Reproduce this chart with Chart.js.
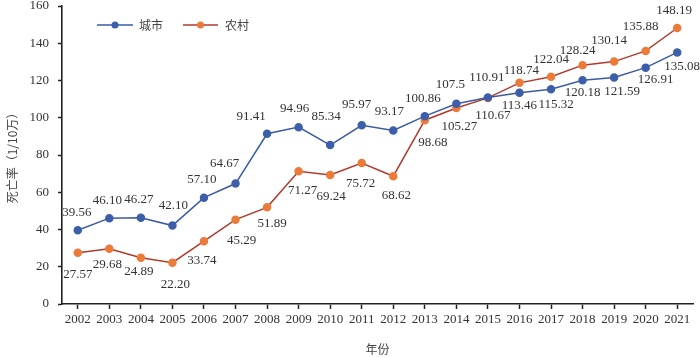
<!DOCTYPE html>
<html>
<head>
<meta charset="utf-8">
<script src="https://cdn.jsdelivr.net/npm/chart.js@4.4.1/dist/chart.umd.min.js"></script>
<style>
html,body{margin:0;padding:0;background:#fff;}
#wrap{width:700px;height:357px;}
</style>
</head>
<body>
<div id="wrap"><canvas id="c" width="700" height="357"></canvas></div>
<script>
const years = ['2002','2003','2004','2005','2006','2007','2008','2009','2010','2011','2012','2013','2014','2015','2016','2017','2018','2019','2020','2021'];
const cityValues = [39.56,46.10,46.27,42.10,57.10,64.67,91.41,94.96,85.34,95.97,93.17,100.86,107.5,110.91,113.46,115.32,120.18,121.59,126.91,135.08];
const ruralValues = [27.57,29.68,24.89,22.20,33.74,45.29,51.89,71.27,69.24,75.72,68.62,98.68,105.27,110.67,118.74,122.04,128.24,130.14,135.88,148.19];
const yTicks = [0,20,40,60,80,100,120,140,160];
const seriesNames = ['城市','农村'];

const CITY_LINE = '#3b5ba6', CITY_PT = '#3d5fa9';
const RURAL_LINE = '#b23a2c', RURAL_PT = '#ec7b39';
const serif = '"Liberation Serif", "DejaVu Serif", serif';
const cjk = '"Noto Sans CJK SC", "Liberation Serif", sans-serif';

function fmt(v){ return (v === 107.5) ? '107.5' : v.toFixed(2); }

// label nudges relative to each point (placement only)
const labelNudge = [
  [[-1,-18],[-2,-18],[-2,-18],[1,-20],[-2,-18],[-11,-20],[-16,-17],[-4,-19],[-4,-28],[-5,-21],[-4,-19],[-2,-18],[-6,-19],[-1,-20],[0,13],[5,15],[0,12],[8,14],[10,12],[5,14]],
  [[0,22],[-2,16],[-2,14],[3,22],[-2,19],[6,21],[5,16],[4,19],[1,22],[-1,21],[3,19],[8,22],[3,19],[5,18],[2,-12],[0,-17],[-5,-15],[-5,-21],[-5,-24],[-3,-17]]
];

const labelPlugin = {
  id: 'valueLabels',
  afterDatasetsDraw(chart) {
    const ctx = chart.ctx;
    ctx.save();
    ctx.font = '13px ' + serif;
    ctx.fillStyle = '#333';
    ctx.textAlign = 'center';
    ctx.textBaseline = 'middle';
    chart.data.datasets.forEach((ds, di) => {
      const meta = chart.getDatasetMeta(di);
      meta.data.forEach((pt, i) => {
        const n = labelNudge[di][i];
        ctx.fillText(fmt(ds.data[i]), pt.x + n[0], pt.y + n[1]);
      });
    });
    ctx.restore();
  }
};

const legendPlugin = {
  id: 'lineLegend',
  afterDraw(chart) {
    const ctx = chart.ctx;
    const items = [
      {x0: 97, x1: 133, tx: 139, line: CITY_LINE, pt: CITY_PT, text: seriesNames[0]},
      {x0: 183, x1: 218, tx: 225, line: RURAL_LINE, pt: RURAL_PT, text: seriesNames[1]}
    ];
    const y = 25;
    ctx.save();
    items.forEach(it => {
      ctx.strokeStyle = it.line;
      ctx.lineWidth = 1.6;
      ctx.beginPath(); ctx.moveTo(it.x0, y); ctx.lineTo(it.x1, y); ctx.stroke();
      ctx.fillStyle = it.pt;
      ctx.beginPath(); ctx.arc((it.x0 + it.x1) / 2, y, 3.5, 0, Math.PI * 2); ctx.fill();
      ctx.fillStyle = '#444';
      ctx.font = '12px ' + cjk;
      ctx.textAlign = 'left';
      ctx.textBaseline = 'middle';
      ctx.fillText(it.text, it.tx, y);
    });
    ctx.restore();
  }
};

new Chart(document.getElementById('c'), {
  type: 'line',
  data: {
    labels: years,
    datasets: [
      {label: seriesNames[0], data: cityValues, borderColor: CITY_LINE, backgroundColor: CITY_PT,
       pointBackgroundColor: CITY_PT, pointBorderColor: CITY_PT, pointRadius: 3.5, borderWidth: 1.5, tension: 0},
      {label: seriesNames[1], data: ruralValues, borderColor: RURAL_LINE, backgroundColor: RURAL_PT,
       pointBackgroundColor: RURAL_PT, pointBorderColor: RURAL_PT, pointRadius: 3.5, borderWidth: 1.5, tension: 0}
    ]
  },
  options: {
    responsive: false,
    animation: false,
    devicePixelRatio: 1,
    layout: {padding: {top: 6, right: 7, left: 5, bottom: 0}},
    plugins: {legend: {display: false}, tooltip: {enabled: false}},
    scales: {
      x: {
        type: 'category',
        offset: true,
        grid: {display: true, drawOnChartArea: false, offset: false, tickLength: 5, tickColor: '#222', tickWidth: 1.5},
        border: {display: true, color: '#222', width: 1.6},
        ticks: {color: '#333', font: {family: serif, size: 13}, padding: 3, maxRotation: 0, autoSkip: false},
        title: {display: true, text: '年份', color: '#444', font: {family: cjk, size: 12}, padding: {top: 3, bottom: 0}},
        afterFit(s) { s.height = 53; s.paddingRight = 0; s.paddingLeft = 0; }
      },
      y: {
        min: 0, max: 160,
        afterBuildTicks(s) { s.ticks = yTicks.map(v => ({value: v})); },
        grid: {display: true, drawOnChartArea: false, tickLength: 4, tickColor: '#222', tickWidth: 1.5},
        border: {display: true, color: '#222', width: 1.6},
        ticks: {color: '#333', font: {family: serif, size: 13}, padding: 9},
        title: {display: true, text: '死亡率（1/10万）', color: '#444', font: {family: cjk, size: 12}, padding: {top: 0, bottom: 4}},
        afterFit(s) { s.width = 57; s.paddingTop = 0; s.paddingBottom = 0; }
      }
    }
  },
  plugins: [labelPlugin, legendPlugin]
});
</script>
</body>
</html>
